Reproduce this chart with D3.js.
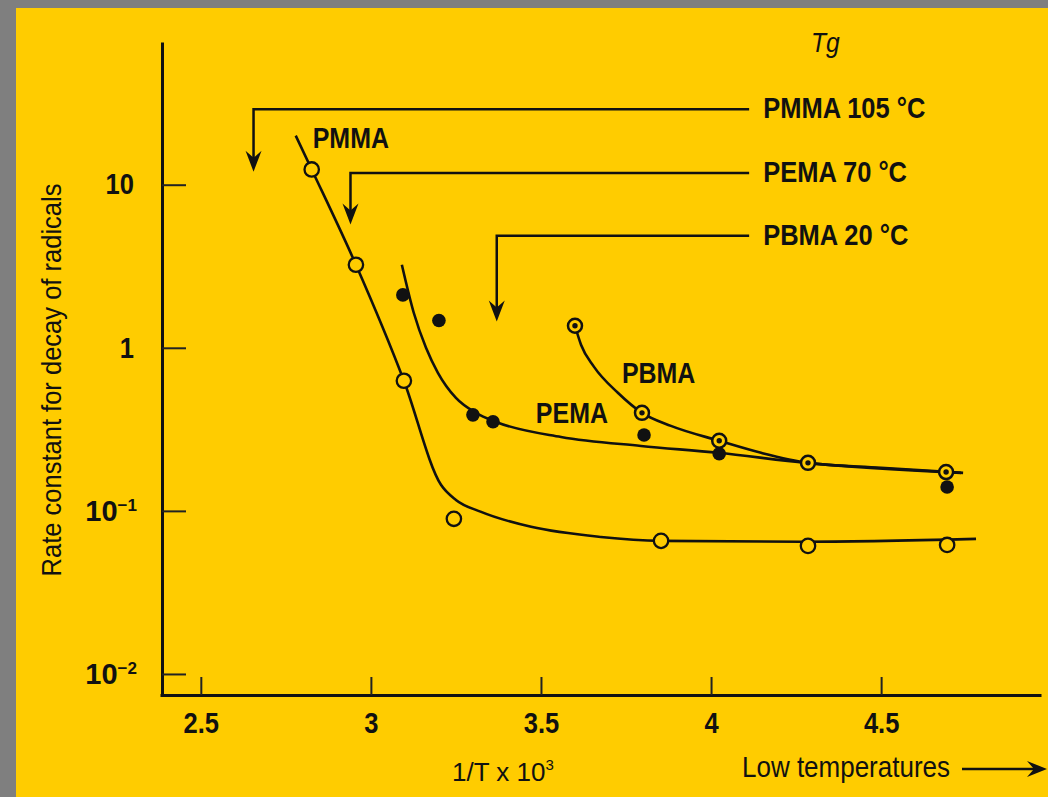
<!DOCTYPE html>
<html>
<head>
<meta charset="utf-8">
<script src="https://cdn.jsdelivr.net/npm/d3@7"></script>
<style>
  body { margin: 0; background: #7f7f7f; }
  svg { display: block; }
  text { font-family: "Liberation Sans Narrow", "Arial Narrow", "Liberation Sans", sans-serif; fill: #111; }
</style>
</head>
<body>
<div id="chart"></div>
<script>
// axis ticks
const xTicks = [2.5, 3, 3.5, 4, 4.5];
const yTicks = [10, 1, 0.1, 0.01];
const yTickBase = ["10", "1", "10", "10"];
const yTickExp = ["", "", "\u22121", "\u22122"];

// measured points (1/T x 10^3, rate constant)
const pmmaX = [2.826, 2.956, 3.097, 3.244, 3.853, 4.285, 4.694];
const pmmaY = [12.4, 3.23, 0.628, 0.0894, 0.0655, 0.061, 0.0618];
const pemaX = [3.094, 3.2, 3.3, 3.359, 3.803, 4.024, 4.694];
const pemaY = [2.11, 1.47, 0.388, 0.352, 0.292, 0.224, 0.140];
const pbmaX = [3.6, 3.797, 4.024, 4.285, 4.691];
const pbmaY = [1.365, 0.399, 0.269, 0.197, 0.173];

// hand drawn fit lines
const pmmaFitX = [2.779, 2.826, 2.956, 3.097, 3.206, 3.25, 3.324, 3.471, 3.676, 3.853, 4.265, 4.779];
const pmmaFitY = [20, 12.4, 3.23, 0.628, 0.1445, 0.1167, 0.0986, 0.0798, 0.0692, 0.0655, 0.0646, 0.0673];
const pemaFitX = [3.091, 3.126, 3.162, 3.197, 3.25, 3.309, 3.368, 3.559, 3.794, 4.021, 4.279, 4.735];
const pemaFitY = [3.23, 1.64, 1.0, 0.703, 0.493, 0.399, 0.351, 0.284, 0.25, 0.227, 0.197, 0.171];
const pbmaFitX = [3.6, 3.618, 3.656, 3.726, 3.797, 3.882, 4.024, 4.147, 4.285, 4.5, 4.741];
const pbmaFitY = [1.365, 1.04, 0.764, 0.530, 0.399, 0.332, 0.269, 0.227, 0.197, 0.184, 0.171];

// curve labels
const curveNames = ["PMMA", "PEMA", "PBMA"];
const curveLabelX = [2.829, 3.485, 3.738];
const curveLabelY = [16.9, 0.347, 0.609];

// glass transition markers
const tgNames = ["PMMA 105 \u00b0C", "PEMA 70 \u00b0C", "PBMA 20 \u00b0C"];
const tgX = [2.655, 2.94, 3.37];
const tgLineY = [29, 11.8, 4.87];
const tgTipY = [12, 5.7, 1.45];
const tgLineEnd = 4.112;

const W = 1048, H = 797;

const svg = d3.select("#chart")
    .append("svg")
    .attr("width", W)
    .attr("height", H);

svg.append("rect").attr("width", W).attr("height", H).attr("fill", "#7f7f7f");
svg.append("rect").attr("x", 16).attr("y", 8)
    .attr("width", W - 16).attr("height", H - 8)
    .attr("fill", "#ffcc00");

// squeeze text to look like the condensed face of the original
function narrow(sel, k) {
    sel.each(function() {
        const w = this.getComputedTextLength();
        d3.select(this).attr("textLength", w * k).attr("lengthAdjust", "spacingAndGlyphs");
    });
}

const x = d3.scaleLinear().domain([2.38, 4.97]).range([160, 1041]);
const y = d3.scaleLog().domain([0.00743, 75]).range([695, 42]);

// axes
const xAxis = svg.append("g")
    .attr("transform", "translate(0,695)")
    .call(d3.axisBottom(x).tickValues(xTicks).tickFormat(d3.format(""))
        .tickSizeInner(-18).tickSizeOuter(0));

xAxis.selectAll(".tick text")
    .attr("y", 38).attr("dy", 0)
    .attr("font-size", 29).attr("font-weight", "bold")
    .call(narrow, 0.88);

const yAxis = svg.append("g")
    .attr("transform", "translate(162,0)")
    .call(d3.axisLeft(y).tickValues(yTicks).tickFormat((d, i) => yTickBase[i])
        .tickSizeInner(-24).tickSizeOuter(0).tickPadding(28));

yAxis.selectAll(".tick text")
    .attr("font-size", 29).attr("font-weight", "bold")
    .call(narrow, 0.88)
    .each(function(d, i) {
        if (yTickExp[i]) {
            d3.select(this).attr("dx", 3).attr("textLength", null);
            d3.select(this).append("tspan")
                .attr("dy", "-0.55em")
                .attr("font-size", 17)
                .text(yTickExp[i]);
        }
    });

svg.selectAll(".domain").attr("stroke", "#111").attr("stroke-width", 3);
svg.selectAll(".tick line").attr("stroke", "#222").attr("stroke-width", 2);

svg.append("text")
    .attr("transform", "translate(61,380) rotate(-90)")
    .attr("text-anchor", "middle")
    .attr("font-size", 28)
    .attr("textLength", 393).attr("lengthAdjust", "spacingAndGlyphs")
    .text("Rate constant for decay of radicals");

const xTitle = svg.append("text")
    .attr("x", 452).attr("y", 781)
    .attr("font-size", 26)
    .text("1/T x 10");
xTitle.append("tspan").attr("dy", -11).attr("font-size", 15).text("3");

svg.append("text")
    .attr("x", 742).attr("y", 777)
    .attr("font-size", 29)
    .attr("textLength", 208).attr("lengthAdjust", "spacingAndGlyphs")
    .text("Low temperatures");

const arrowHead = (tx, ty, dir) => {
    // barbed head pointing along dir: "down" or "right"
    if (dir === "down") {
        return `M${tx},${ty} L${tx - 8},${ty - 21} L${tx},${ty - 14} L${tx + 8},${ty - 21} Z`;
    }
    return `M${tx},${ty} L${tx - 20},${ty - 8} L${tx - 13},${ty} L${tx - 20},${ty + 8} Z`;
};

svg.append("line")
    .attr("x1", 962).attr("x2", 1036).attr("y1", 769).attr("y2", 769)
    .attr("stroke", "#111").attr("stroke-width", 2.5);
svg.append("path").attr("d", arrowHead(1047, 769, "right")).attr("fill", "#111");

// Tg leaders
svg.append("text")
    .attr("x", 811).attr("y", 52)
    .attr("font-size", 28).attr("font-style", "italic")
    .text("Tg")
    .call(narrow, 0.88);

tgNames.forEach((name, i) => {
    const px = x(tgX[i]), ly = y(tgLineY[i]), ty = y(tgTipY[i]);
    svg.append("path")
        .attr("d", `M${x(tgLineEnd)},${ly} H${px} V${ty - 12}`)
        .attr("fill", "none").attr("stroke", "#111").attr("stroke-width", 2.5);
    svg.append("path").attr("d", arrowHead(px, ty, "down")).attr("fill", "#111");
    svg.append("text")
        .attr("x", x(tgLineEnd) + 14).attr("y", ly + 9)
        .attr("font-size", 30).attr("font-weight", "bold")
        .text(name)
        .call(narrow, 0.85);
});

// fit lines
const line = d3.line()
    .x(d => x(d[0]))
    .y(d => y(d[1]))
    .curve(d3.curveMonotoneX);

[[pmmaFitX, pmmaFitY], [pemaFitX, pemaFitY], [pbmaFitX, pbmaFitY]].forEach(([fx, fy]) => {
    svg.append("path")
        .datum(d3.zip(fx, fy))
        .attr("d", line)
        .attr("fill", "none")
        .attr("stroke", "#111")
        .attr("stroke-width", 2.6);
});

// markers
svg.append("g").selectAll("circle")
    .data(d3.zip(pmmaX, pmmaY))
    .join("circle")
    .attr("cx", d => x(d[0])).attr("cy", d => y(d[1]))
    .attr("r", 7.2)
    .attr("fill", "#ffcc00").attr("stroke", "#111").attr("stroke-width", 2.3);

svg.append("g").selectAll("circle")
    .data(d3.zip(pemaX, pemaY))
    .join("circle")
    .attr("cx", d => x(d[0])).attr("cy", d => y(d[1]))
    .attr("r", 6.8)
    .attr("fill", "#111");

const pb = svg.append("g").selectAll("g")
    .data(d3.zip(pbmaX, pbmaY))
    .join("g")
    .attr("transform", d => `translate(${x(d[0])},${y(d[1])})`);
pb.append("circle").attr("r", 7)
    .attr("fill", "#ffcc00").attr("stroke", "#111").attr("stroke-width", 2.5);
pb.append("circle").attr("r", 2.7).attr("fill", "#111");

// curve labels
svg.append("g").selectAll("text")
    .data(curveNames)
    .join("text")
    .attr("x", (d, i) => x(curveLabelX[i]))
    .attr("y", (d, i) => y(curveLabelY[i]))
    .attr("font-size", 29).attr("font-weight", "bold")
    .text(d => d)
    .call(narrow, 0.86);
</script>
</body>
</html>
